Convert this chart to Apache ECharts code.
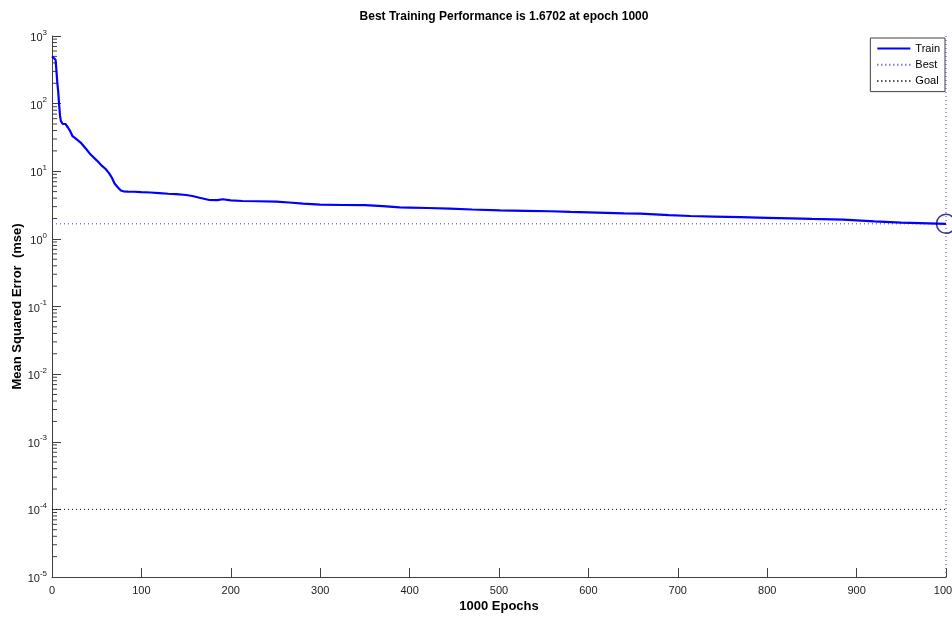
<!DOCTYPE html>
<html>
<head>
<meta charset="utf-8">
<script src="https://cdn.jsdelivr.net/npm/echarts@6/dist/echarts.min.js"></script>
<style>
  html, body { margin: 0; padding: 0; background: #fff; }
  #chart { width: 952px; height: 620px; }
</style>
</head>
<body>
<div id="chart"></div>
<script>
// epochs and mse
const epochs = [0, 2, 4, 5, 6, 7, 8, 9, 10, 12, 15, 18, 20, 23, 27, 32, 38, 43, 50, 56, 60, 64, 67, 70, 74, 77, 80, 85, 92, 100,
  110, 120, 130, 139, 150, 157, 165, 176, 185, 191, 200, 213, 230, 251, 265, 281, 300, 325, 350, 370, 389, 400, 420, 445,
  470, 501, 530, 557, 580, 610, 640, 658, 690, 714, 740, 770, 800, 826, 850, 885, 920, 950, 980, 1000];
const trainMse = [500, 480, 445, 300, 200, 148, 95, 66, 55, 50, 50, 44, 40, 33, 30, 26.6, 21.5, 17.8, 14.5, 12, 10.8, 9.3, 8, 6.6, 5.7, 5.2, 5.05, 5.0, 4.98, 4.9,
  4.85, 4.75, 4.65, 4.6, 4.45, 4.3, 4.05, 3.76, 3.75, 3.85, 3.7, 3.63, 3.6, 3.56, 3.45, 3.32, 3.22, 3.17, 3.15, 3.05, 2.92, 2.9, 2.86, 2.8,
  2.72, 2.64, 2.6, 2.56, 2.5, 2.44, 2.38, 2.36, 2.25, 2.18, 2.14, 2.1, 2.05, 2.01, 1.97, 1.92, 1.82, 1.74, 1.7, 1.6702];
const bestEpoch = 1000;
const bestPerf = 1.6702;
const goal = 1e-4;
const decades = [-5, -4, -3, -2, -1, 0, 1, 2];
const minorSteps = [2, 3, 4, 5, 6, 7, 8, 9];

const myChart = echarts.init(document.getElementById('chart'));

// minor ticks of the log axis
let minorVals = [];
decades.forEach(function (d) {
  minorSteps.forEach(function (m) { minorVals.push([0, m * Math.pow(10, d)]); });
});

const font = 'Liberation Sans, Arial, sans-serif';

const option = {
  animation: false,
  title: {
    text: 'Best Training Performance is ' + bestPerf + ' at epoch ' + bestEpoch,
    left: 499, top: 6, textAlign: 'center',
    textStyle: { fontFamily: font, fontSize: 12, fontWeight: 'bold', color: '#000' }
  },
  legend: {
    orient: 'vertical',
    right: 7, top: 38,
    itemWidth: 33, itemHeight: 14, itemGap: 5,
    padding: [5, 5, 5, 6],
    borderColor: '#404040', borderWidth: 1,
    backgroundColor: '#fff',
    itemStyle: { opacity: 0 },
    textStyle: { fontFamily: font, fontSize: 11, color: '#000' },
    data: ['Train', 'Best', 'Goal']
  },
  grid: { left: 52, right: 6, top: 36, bottom: 43, outerBoundsMode: 'none' },
  xAxis: {
    type: 'value', min: 0, max: 1000, interval: 100,
    name: bestEpoch + ' Epochs', nameLocation: 'middle', nameGap: 23, nameMoveOverlap: false,
    nameTextStyle: { fontFamily: font, fontSize: 13, fontWeight: 'bold', color: '#000' },
    axisLine: { lineStyle: { color: '#404040', width: 1 } },
    axisTick: { inside: true, length: 9, lineStyle: { color: '#404040' } },
    axisLabel: {
      margin: 8, fontFamily: font, fontSize: 11, color: '#222',
      formatter: function (v) { return String(v); }
    },
    splitLine: { show: false }
  },
  yAxis: {
    type: 'log', logBase: 10, min: 1e-5, max: 1e3,
    name: 'Mean Squared Error  (mse)', nameLocation: 'middle', nameGap: 28, nameMoveOverlap: false,
    nameTextStyle: { fontFamily: font, fontSize: 13, fontWeight: 'bold', color: '#000' },
    axisLine: { show: true, lineStyle: { color: '#404040', width: 1 } },
    axisTick: { inside: true, length: 9, lineStyle: { color: '#404040' } },
    axisLabel: {
      margin: 5, fontFamily: font, color: '#222',
      formatter: function (v) {
        return '{b|10}{s|' + Math.round(Math.log10(v)) + '}';
      },
      rich: {
        b: { fontFamily: font, fontSize: 11, color: '#222', lineHeight: 15, verticalAlign: 'bottom' },
        s: { fontFamily: font, fontSize: 8, color: '#222', lineHeight: 15, verticalAlign: 'top' }
      }
    },
    splitLine: { show: false }
  },
  series: [
    {
      name: 'Train', type: 'line', symbol: 'none',
      data: epochs.map(function (e, i) { return [e, trainMse[i]]; }),
      lineStyle: { color: '#0000ff', width: 2.2 },
      itemStyle: { color: '#0000ff' },
      z: 5
    },
    {
      name: 'Best', type: 'line', symbol: 'none',
      data: [[0, bestPerf], [bestEpoch, bestPerf]],
      lineStyle: { color: '#3a3ad8', width: 1, type: [1, 3] },
      itemStyle: { color: '#3a3ad8' }
    },
    {
      name: 'Best', type: 'line', symbol: 'none',
      data: [[bestEpoch, 1e-5], [bestEpoch, 1e3]],
      lineStyle: { color: '#3a3ad8', width: 1, type: [1, 3] },
      itemStyle: { color: '#3a3ad8' }
    },
    {
      name: 'Goal', type: 'line', symbol: 'none',
      data: [[0, goal], [1000, goal]],
      lineStyle: { color: '#000', width: 1, type: [1, 3] },
      itemStyle: { color: '#000' }
    },
    {
      name: 'bestPoint', type: 'scatter',
      data: [[bestEpoch, bestPerf]],
      symbol: 'circle', symbolSize: 19,
      itemStyle: { color: 'rgba(0,0,0,0)', borderColor: '#000080', borderWidth: 1.5 },
      clip: false, silent: true, z: 6
    },
    {
      name: 'minorTicks', type: 'custom', silent: true, clip: false,
      data: minorVals,
      renderItem: function (params, api) {
        const p = api.coord([0, api.value(1)]);
        return {
          type: 'line',
          shape: { x1: p[0], y1: p[1], x2: p[0] + 5, y2: p[1] },
          style: { stroke: '#404040', lineWidth: 1 }
        };
      }
    }
  ]
};

myChart.setOption(option);
</script>
</body>
</html>
